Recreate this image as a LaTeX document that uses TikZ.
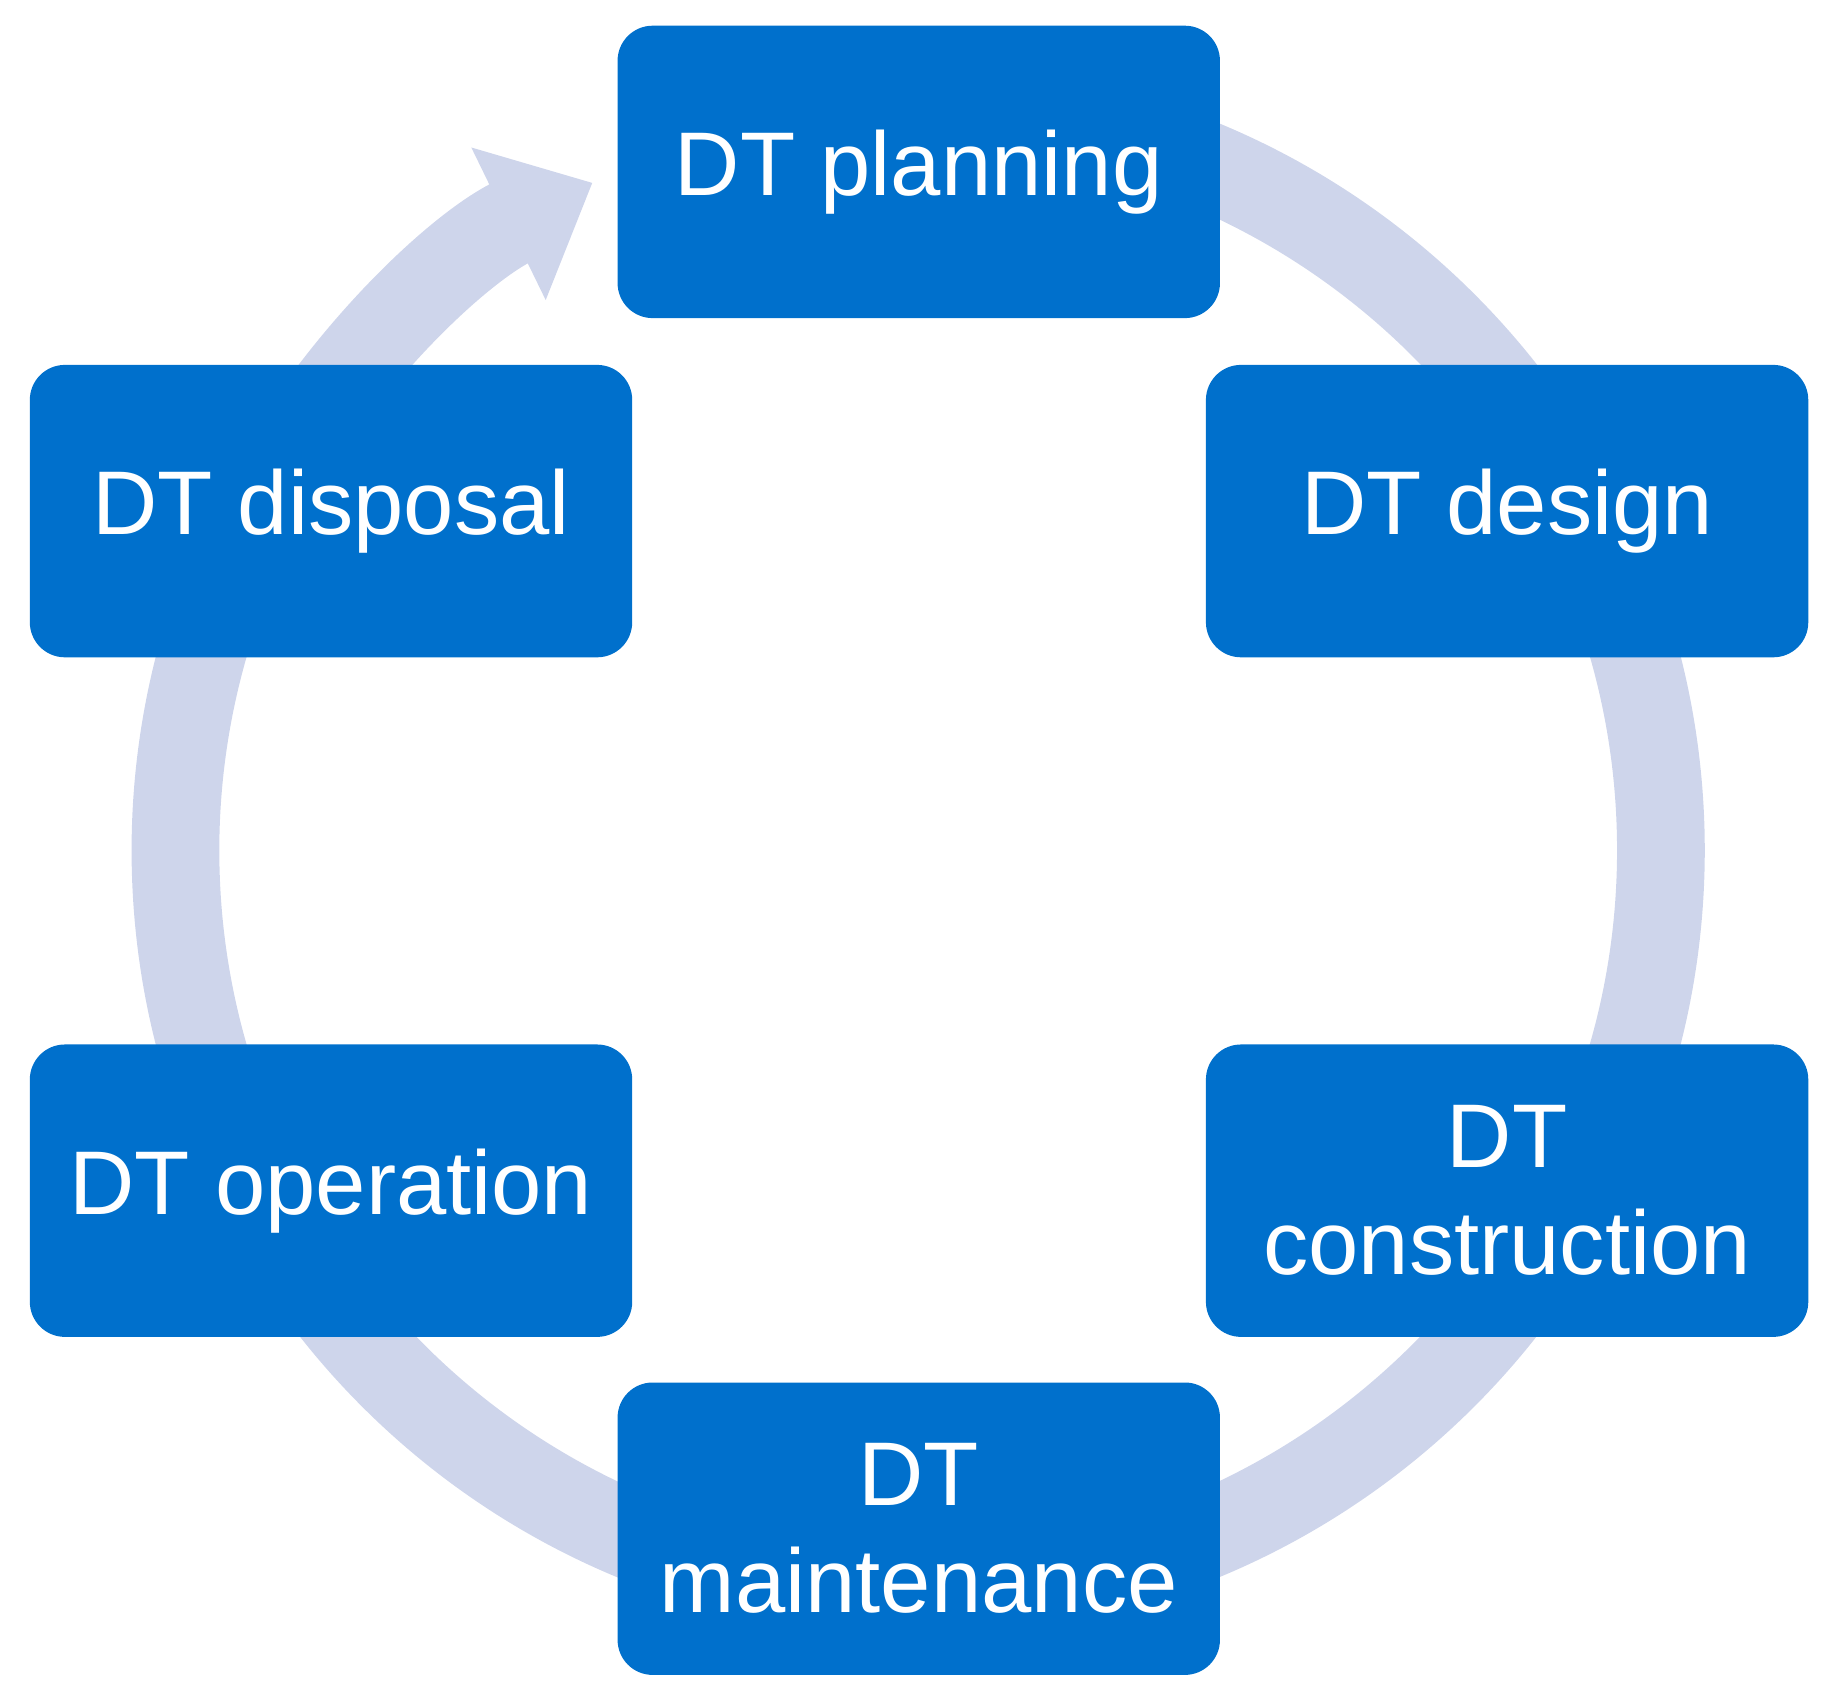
\documentclass[tikz,border=0pt]{standalone}
\usepackage{fontspec}
\setmainfont{Liberation Sans}
\usetikzlibrary{arrows.meta}
\definecolor{boxblue}{RGB}{0,112,204}
\definecolor{ringblue}{RGB}{206,213,235}

\begin{document}
\begin{tikzpicture}[
    phase/.style={fill=boxblue, rounded corners=0.3cm, minimum width=5.15cm,
        minimum height=2.5cm, text=white, align=center,
        font=\fontsize{22pt}{26pt}\selectfont},
    ring/.style={ringblue, line width=0.75cm}
]
    \useasboundingbox (0,0) rectangle (15.68,14.56);

    % Cycle ring behind the boxes
    \coordinate (c) at (7.85,7.29);
    \draw[ring] (c) ++(90:6.35) arc[start angle=90, end angle=-210, radius=6.35];
    \draw[ring, -{Triangle[width=1.4cm, length=0.8cm]}]
        (c) ++(150:6.35) arc[start angle=150, end angle=116, radius=6.35];

    % Phase boxes
    \node[phase] (planning)     at (7.855,13.09) {DT planning};
    \node[phase] (design)       at (12.885,10.19) {DT design};
    \node[phase] (construction) at (12.885,4.38) {DT\\construction};
    \node[phase] (maintenance)  at (7.855,1.49) {DT\\maintenance};
    \node[phase] (operation)    at (2.83,4.38) {DT operation};
    \node[phase] (disposal)     at (2.83,10.19) {DT disposal};
\end{tikzpicture}
\end{document}
